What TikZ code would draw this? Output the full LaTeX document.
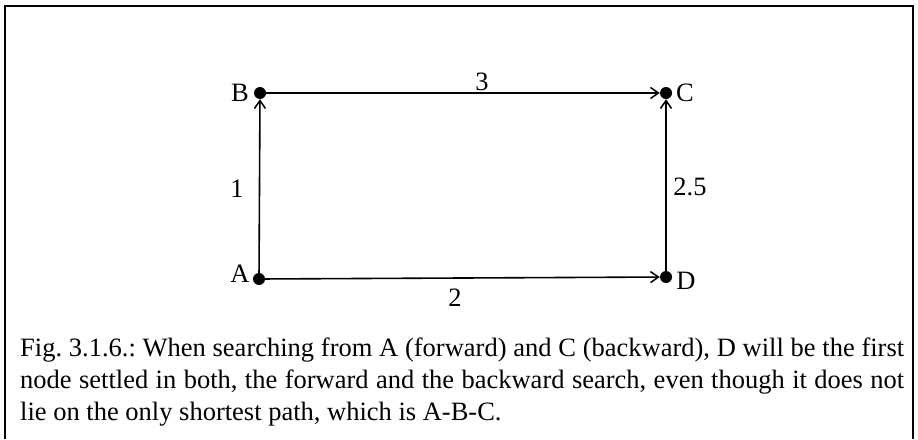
\documentclass[tikz,border=0pt]{standalone}
\usepackage{fontspec}
\setmainfont{Liberation Serif}
\usetikzlibrary{arrows.meta}
\begin{document}
\begin{tikzpicture}[x=1pt,y=-1pt,
  dot/.style={circle,fill=black,inner sep=0pt,minimum size=12pt},
  edge/.style={line width=1.6pt,-{Straight Barb[length=8pt,width=11pt,line width=1.5pt]}},
  lbl/.style={font=\fontsize{26.5}{32}\selectfont, inner sep=0pt},
  frame/.style={line width=1.2pt}]
\useasboundingbox (0,0) rectangle (918,439);
\draw[frame] (5,439) -- (5,6) -- (913,6) -- (913,439);
\node[dot] (A) at (259,279) {};
\node[dot] (B) at (260,93) {};
\node[dot] (C) at (666,93) {};
\node[dot] (D) at (666,277) {};
\draw[edge] (A.center) -- (B);
\draw[edge] (B.center) -- (C);
\draw[edge] (A.center) -- (D);
\draw[edge] (D.center) -- (C);
\node[lbl] (lA) at (240,274) {A};
\node[lbl] (lB) at (240,93) {B};
\node[lbl] (lC) at (685,93) {C};
\node[lbl] (lD) at (686,281) {D};
\node[lbl] (w3) at (482,82) {3};
\node[lbl] (w1) at (237,189) {1};
\node[lbl] (w25) at (690,187) {2.5};
\node[lbl] (w2) at (455,298) {2};
\node[lbl, anchor=north west, text width=884pt, align=justify] (cap) at (20,338)
{\frenchspacing Fig. 3.1.6.: When searching from A (forward) and C (backward), D will be the first\linebreak
node settled in both, the forward and the backward search, even though it does not\linebreak
lie on the only shortest path, which is A-B-C.};
\end{tikzpicture}
\end{document}
